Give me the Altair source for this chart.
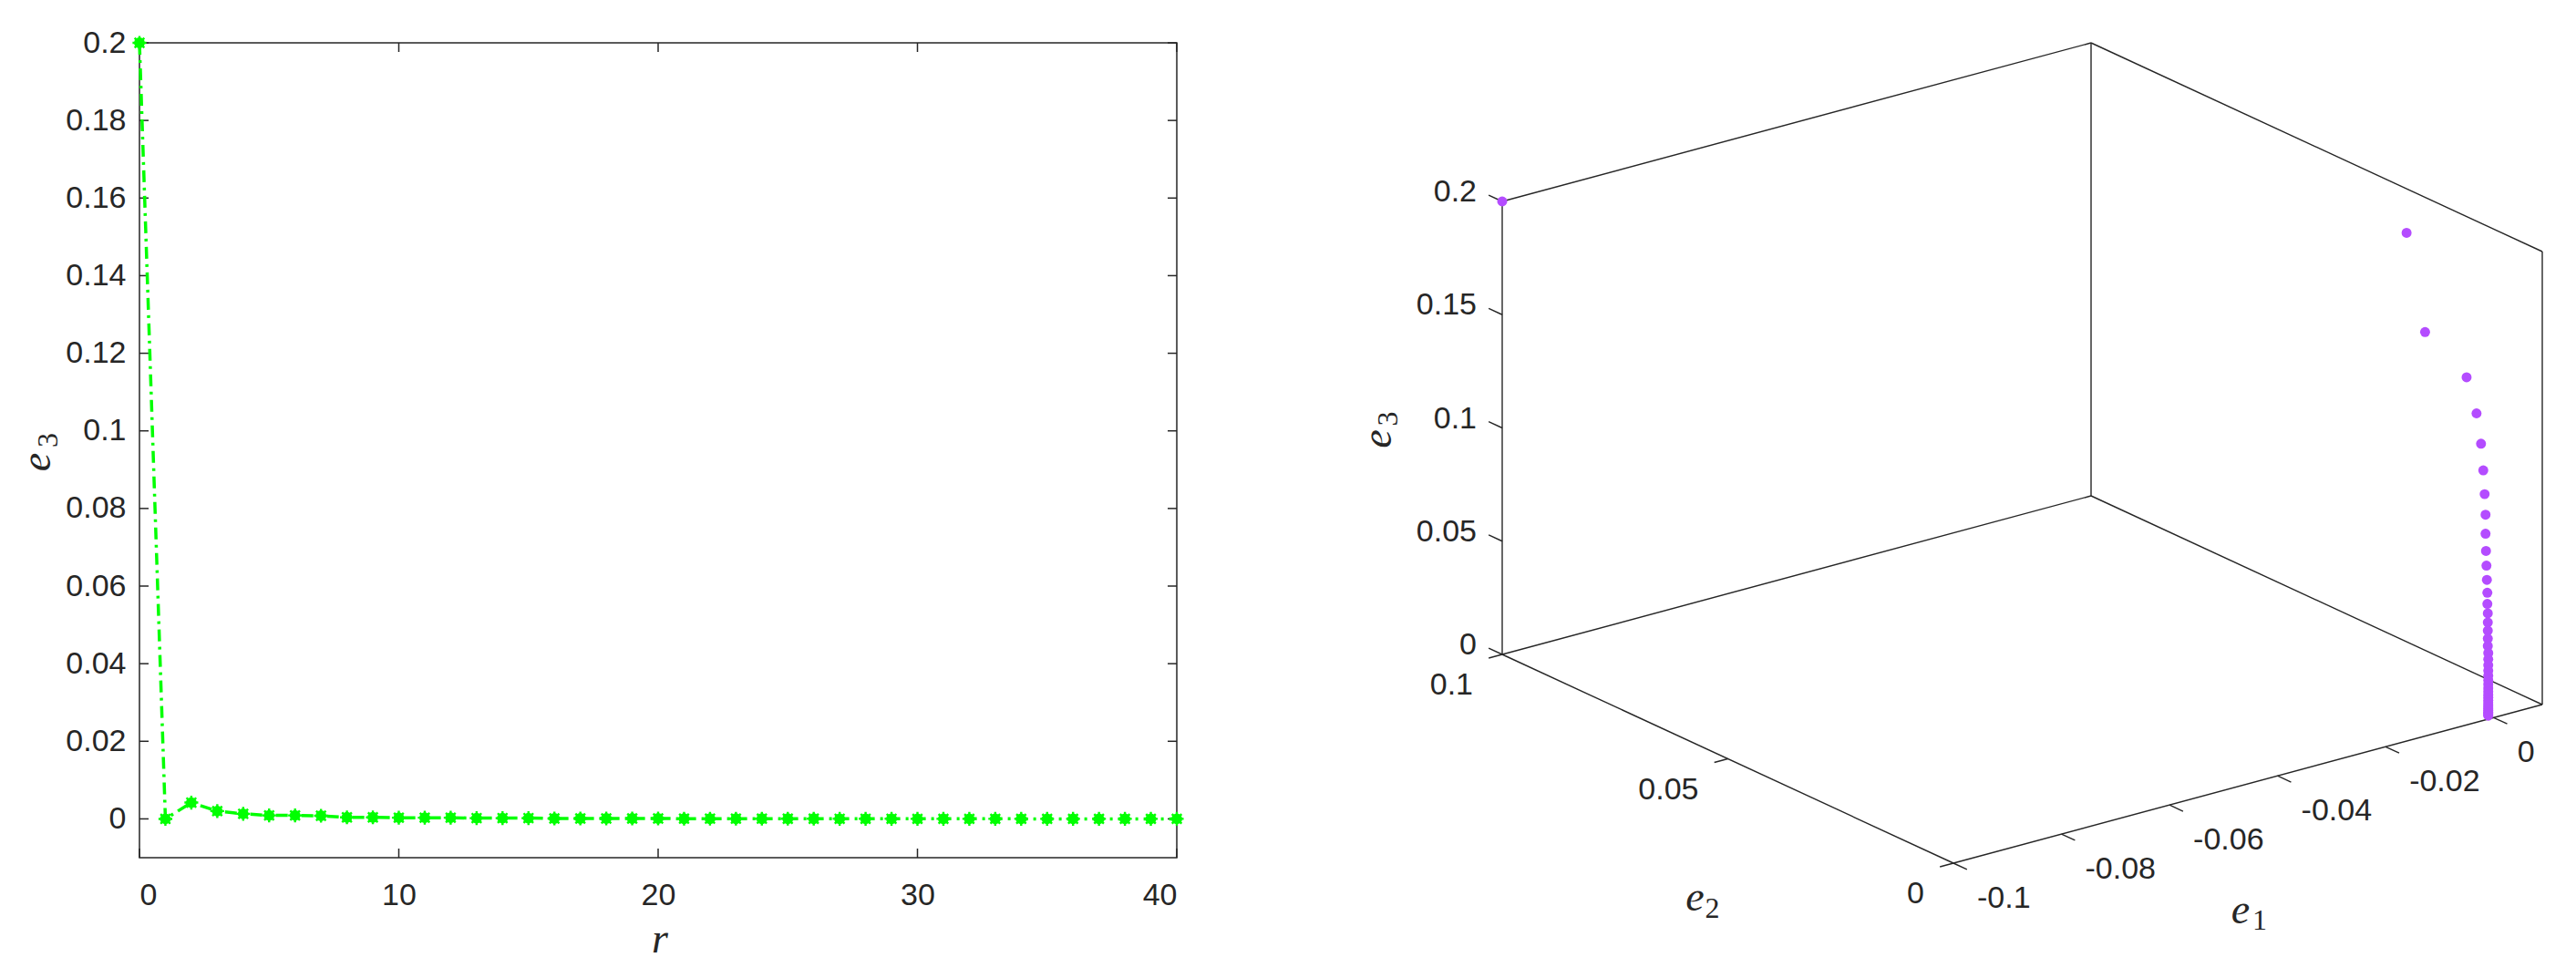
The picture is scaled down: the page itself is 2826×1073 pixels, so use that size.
import altair as alt
import pandas as pd

# ---------------- left panel data ----------------
r_vals = [0, 1, 2, 3, 4, 5, 6, 7, 8, 9, 10, 11, 12, 13, 14, 15, 16, 17, 18, 19, 20,
          21, 22, 23, 24, 25, 26, 27, 28, 29, 30, 31, 32, 33, 34, 35, 36, 37, 38, 39, 40]
e3_left = [0.2, 0.0, 0.0042, 0.0020, 0.0013, 0.0009, 0.0009, 0.0008, 0.0004, 0.0004,
           0.0003, 0.0003, 0.0003, 0.0002, 0.0002, 0.0002, 0.0001, 0.0001, 0.0001, 0.0001,
           0.0001, 0.00005, 0.00005, 0.00005, 0.00005, 0.00004, 0.00004, 0.00003, 0.00003,
           0.00003, 0.00002, 0.00002, 0.00002, 0.00002, 0.00001, 0.00001, 0.00001, 0.00001,
           0.00001, 0.00001, 0.00001]
left_xticks = [0, 10, 20, 30, 40]
left_yticks = [0, 0.02, 0.04, 0.06, 0.08, 0.1, 0.12, 0.14, 0.16, 0.18, 0.2]

# ---------------- right panel data (3-D) ----------------
e1_3d = [-0.1, -0.001, -0.001, -0.001, -0.001, -0.001, -0.001, -0.001, -0.001, -0.001,
         -0.001, -0.001, -0.001, -0.001, -0.001, -0.001, -0.001, -0.001, -0.001, -0.001,
         -0.001, -0.001, -0.001, -0.001, -0.001, -0.001, -0.001, -0.001, -0.001, -0.001,
         -0.001, -0.001, -0.001, -0.001, -0.001, -0.001, -0.001, -0.001, -0.001, -0.001, -0.001]
e2_3d = [0.1, 0.0181, 0.0140, 0.0048, 0.0026, 0.0016, 0.0011, 0.0008, 0.0006, 0.0006,
         0.0005, 0.0004, 0.0003, 0.0002, 0.0002, 0.0001, 0.0001, 0.0001, 0.0001, 0.0001,
         0.0, 0.0, 0.0, 0.0, 0.0, 0.0, 0.0, 0.0, 0.0, 0.0,
         0.0, 0.0, 0.0, 0.0, 0.0, 0.0, 0.0, 0.0, 0.0, 0.0, 0.0]
e3_3d = [0.2, 0.198, 0.158, 0.1465, 0.1326, 0.1201, 0.1088, 0.0986, 0.0897, 0.0813,
         0.0738, 0.0674, 0.0612, 0.0556, 0.0507, 0.0466, 0.0426, 0.039, 0.0355, 0.0322,
         0.0292, 0.0264, 0.0238, 0.0214, 0.0192, 0.0172, 0.0154, 0.0137, 0.0122, 0.0108,
         0.0095, 0.0083, 0.0072, 0.0062, 0.0053, 0.0045, 0.0038, 0.0031, 0.0025, 0.002, 0.0015]
e1_lim = [-0.1, 0.009]
e2_lim = [0.0, 0.1]
e3_lim = [0.0, 0.2]
e1_ticks = [-0.1, -0.08, -0.06, -0.04, -0.02, 0.0]
e1_labels = ["-0.1", "-0.08", "-0.06", "-0.04", "-0.02", "0"]
e2_ticks = [0.0, 0.05, 0.1]
e2_labels = ["0", "0.05", "0.1"]
e3_ticks = [0.0, 0.05, 0.1, 0.15, 0.2]
e3_labels = ["0", "0.05", "0.1", "0.15", "0.2"]

# ---------------- styles ----------------
AX = "#262626"
GREEN = "#00ff00"
PURPLE = "#b44cff"
LAB_FONT = "Liberation Sans"
TITLE_FONT = "Liberation Serif"
LAB_SIZE = 34
TITLE_SIZE = 46
SUB_SIZE = 32

LW, LH = 1138, 894          # left plot area
RW, RH = 1320, 1000         # right plot area
RX_DOM = [-157, 1163]       # projected units (1 unit = 1 px)
RY_DOM = [329, -671]

# screen vectors of the view (orthographic projection, pixels)
V1 = (646.0, -174.0)   # full e1 range
V2 = (495.0, 229.0)    # e2 from max to min
V3 = (0.0, -497.0)     # full e3 range


def proj(a, b, c):
    n1 = (a - e1_lim[0]) / (e1_lim[1] - e1_lim[0])
    n2 = (e2_lim[1] - b) / (e2_lim[1] - e2_lim[0])
    n3 = (c - e3_lim[0]) / (e3_lim[1] - e3_lim[0])
    return (V1[0] * n1 + V2[0] * n2 + V3[0] * n3,
            V1[1] * n1 + V2[1] * n2 + V3[1] * n3)


one = pd.DataFrame({"k": [0]})
ital = dict(font=TITLE_FONT, fontStyle="italic", fontSize=TITLE_SIZE, color=AX,
            baseline="alphabetic")
upr = dict(font=TITLE_FONT, fontSize=SUB_SIZE, color=AX, baseline="alphabetic")

# ================= LEFT =================
df_left = pd.DataFrame({"r": r_vals, "e3": e3_left})
xs = alt.Scale(domain=[0, 40], nice=False, zero=False)
ys = alt.Scale(domain=[-0.01, 0.2], nice=False, zero=False)

base_l = alt.Chart(df_left)
line_l = base_l.mark_line(color=GREEN, strokeWidth=3.5, strokeDash=[13, 6, 3, 6]).encode(
    x=alt.X("r:Q", scale=xs,
            axis=alt.Axis(values=left_xticks, format="d", title="", ticks=False, domain=False,
                          grid=False, labelFont=LAB_FONT, labelFontSize=LAB_SIZE, labelColor=AX,
                          labelPadding=24)),
    y=alt.Y("e3:Q", scale=ys,
            axis=alt.Axis(values=left_yticks, format=".2~f", title="", ticks=False, domain=False,
                          grid=False, labelFont=LAB_FONT, labelFontSize=LAB_SIZE, labelColor=AX,
                          labelPadding=15)),
)
dots_l = base_l.mark_point(filled=True, shape="circle", size=140, color=GREEN, opacity=1).encode(
    x=alt.X("r:Q", scale=xs), y=alt.Y("e3:Q", scale=ys))
stars_l = base_l.mark_point(
    filled=False, size=230, color=GREEN, strokeWidth=2.4, opacity=1,
    shape="M-1,0L1,0M0,-1L0,1M-0.7,-0.7L0.7,0.7M-0.7,0.7L0.7,-0.7").encode(
    x=alt.X("r:Q", scale=xs), y=alt.Y("e3:Q", scale=ys))

df_yt = pd.DataFrame({"v": left_yticks})
df_xt = pd.DataFrame({"v": left_xticks})
TK = 10
yt_left = alt.Chart(df_yt).mark_rule(color=AX, strokeWidth=1.5).encode(
    y=alt.Y("v:Q", scale=ys), x=alt.value(0), x2=alt.value(TK))
yt_right = alt.Chart(df_yt).mark_rule(color=AX, strokeWidth=1.5).encode(
    y=alt.Y("v:Q", scale=ys), x=alt.value(LW - TK), x2=alt.value(LW))
xt_bot = alt.Chart(df_xt).mark_rule(color=AX, strokeWidth=1.5).encode(
    x=alt.X("v:Q", scale=xs), y=alt.value(LH - TK), y2=alt.value(LH))
xt_top = alt.Chart(df_xt).mark_rule(color=AX, strokeWidth=1.5).encode(
    x=alt.X("v:Q", scale=xs), y=alt.value(0), y2=alt.value(TK))

# axis titles (italic letter + upright subscript)
ly_e = alt.Chart(one).mark_text(angle=270, align="center", **ital).encode(
    text=alt.value("e"), x=alt.value(-98), y=alt.value(460))
ly_s = alt.Chart(one).mark_text(angle=270, align="center", **upr).encode(
    text=alt.value("3"), x=alt.value(-90), y=alt.value(436))
lx_r = alt.Chart(one).mark_text(align="center", **ital).encode(
    text=alt.value("r"), x=alt.value(LW / 2 + 2), y=alt.value(LH + 104))

left = alt.layer(yt_left, yt_right, xt_bot, xt_top, line_l, dots_l, stars_l,
                 ly_e, ly_s, lx_r).properties(
    width=LW, height=LH,
    view=alt.ViewBackground(stroke=AX, strokeWidth=1.5))

# ================= RIGHT (3-D projection) =================
sx = alt.Scale(domain=RX_DOM, nice=False, zero=False)
sy = alt.Scale(domain=RY_DOM, nice=False, zero=False)

# points
pts = [proj(a, b, c) for a, b, c in zip(e1_3d, e2_3d, e3_3d)]
df_pts = pd.DataFrame({"px": [p[0] for p in pts], "py": [p[1] for p in pts]})

# box edges (back planes + floor)
lo1, hi1 = e1_lim
lo2, hi2 = e2_lim
lo3, hi3 = e3_lim
edges3d = [
    ((lo1, hi2, lo3), (lo1, hi2, hi3)),
    ((hi1, hi2, lo3), (hi1, hi2, hi3)),
    ((hi1, lo2, lo3), (hi1, lo2, hi3)),
    ((lo1, hi2, hi3), (hi1, hi2, hi3)),
    ((hi1, hi2, hi3), (hi1, lo2, hi3)),
    ((lo1, hi2, lo3), (hi1, hi2, lo3)),
    ((hi1, hi2, lo3), (hi1, lo2, lo3)),
    ((lo1, lo2, lo3), (hi1, lo2, lo3)),
    ((lo1, hi2, lo3), (lo1, lo2, lo3)),
]
rows = []
for a, b in edges3d:
    p, q = proj(*a), proj(*b)
    rows.append({"x": p[0], "y": p[1], "x2": q[0], "y2": q[1]})

# ticks
t1 = 0.0025   # tick length in e1 units
t2 = 0.0030   # tick length in e2 units
t_rows = []
for v in e3_ticks:
    p, q = proj(lo1, hi2, v), proj(lo1, hi2 + t2, v)
    t_rows.append({"x": p[0], "y": p[1], "x2": q[0], "y2": q[1]})
for v in e2_ticks:
    p, q = proj(lo1, v, lo3), proj(lo1 - t1, v, lo3)
    t_rows.append({"x": p[0], "y": p[1], "x2": q[0], "y2": q[1]})
for v in e1_ticks:
    p, q = proj(v, lo2, lo3), proj(v, lo2 - t2, lo3)
    t_rows.append({"x": p[0], "y": p[1], "x2": q[0], "y2": q[1]})

df_e3lab = pd.DataFrame({"px": [proj(lo1, hi2, v)[0] for v in e3_ticks],
                         "py": [proj(lo1, hi2, v)[1] for v in e3_ticks], "t": e3_labels})
df_e2lab = pd.DataFrame({"px": [proj(lo1, v, lo3)[0] for v in e2_ticks],
                         "py": [proj(lo1, v, lo3)[1] for v in e2_ticks], "t": e2_labels})
df_e1lab = pd.DataFrame({"px": [proj(v, lo2, lo3)[0] for v in e1_ticks],
                         "py": [proj(v, lo2, lo3)[1] for v in e1_ticks], "t": e1_labels})

df_lines = pd.DataFrame(rows + t_rows)

enc_seg = dict(x=alt.X("x:Q", scale=sx, axis=None), y=alt.Y("y:Q", scale=sy, axis=None),
               x2="x2:Q", y2="y2:Q")
box = alt.Chart(df_lines).mark_rule(color=AX, strokeWidth=1.4).encode(**enc_seg)

enc_pt = dict(x=alt.X("px:Q", scale=sx, axis=None), y=alt.Y("py:Q", scale=sy, axis=None))
points3d = alt.Chart(df_pts).mark_circle(size=120, color=PURPLE, opacity=1).encode(**enc_pt)

lab3 = alt.Chart(df_e3lab).mark_text(font=LAB_FONT, fontSize=LAB_SIZE, color=AX, align="right",
                                     baseline="middle", dx=-28, dy=-10).encode(text="t:N", **enc_pt)
lab2 = alt.Chart(df_e2lab).mark_text(font=LAB_FONT, fontSize=LAB_SIZE, color=AX, align="right",
                                     baseline="middle", dx=-32, dy=34).encode(text="t:N", **enc_pt)
lab1 = alt.Chart(df_e1lab).mark_text(font=LAB_FONT, fontSize=LAB_SIZE, color=AX, align="left",
                                     baseline="middle", dx=26, dy=39).encode(text="t:N", **enc_pt)

# axis titles: anchored on the projected mid-point of each axis, pixel offsets
m3 = proj(lo1, hi2, (lo3 + hi3) / 2)
m2 = proj(lo1, (lo2 + hi2) / 2, lo3)
m1 = proj((lo1 + hi1) / 2, lo2, lo3)
df_tl = pd.DataFrame({
    "px": [m3[0] - 122, m2[0] - 36, m1[0] - 8],
    "py": [m3[1] + 12, m2[1] + 166, m1[1] + 153],
    "t": ["e", "e", "e"]})
df_ts = pd.DataFrame({
    "px": [m3[0] - 115, m2[0] - 25, m1[0] + 5],
    "py": [m3[1] - 10, m2[1] + 174, m1[1] + 160],
    "t": ["3", "2", "1"]})
t3e = alt.Chart(df_tl.iloc[[0]]).mark_text(angle=270, align="center", **ital).encode(
    text="t:N", **enc_pt)
t3s = alt.Chart(df_ts.iloc[[0]]).mark_text(angle=270, align="center", **upr).encode(
    text="t:N", **enc_pt)
t12e = alt.Chart(df_tl.iloc[[1, 2]]).mark_text(align="center", **ital).encode(
    text="t:N", **enc_pt)
t12s = alt.Chart(df_ts.iloc[[1, 2]]).mark_text(align="left", **upr).encode(
    text="t:N", **enc_pt)

right = alt.layer(box, points3d, lab3, lab2, lab1, t3e, t3s, t12e, t12s).properties(
    width=RW, height=RH, view=alt.ViewBackground(strokeOpacity=0))

chart = alt.hconcat(left, right, spacing=184).properties(
    padding={"left": 9, "top": 21, "right": 0, "bottom": 0}
).configure_view(strokeOpacity=0).configure(background="white")

chart.save("out.html", embed_options={"renderer": "svg", "actions": False})
